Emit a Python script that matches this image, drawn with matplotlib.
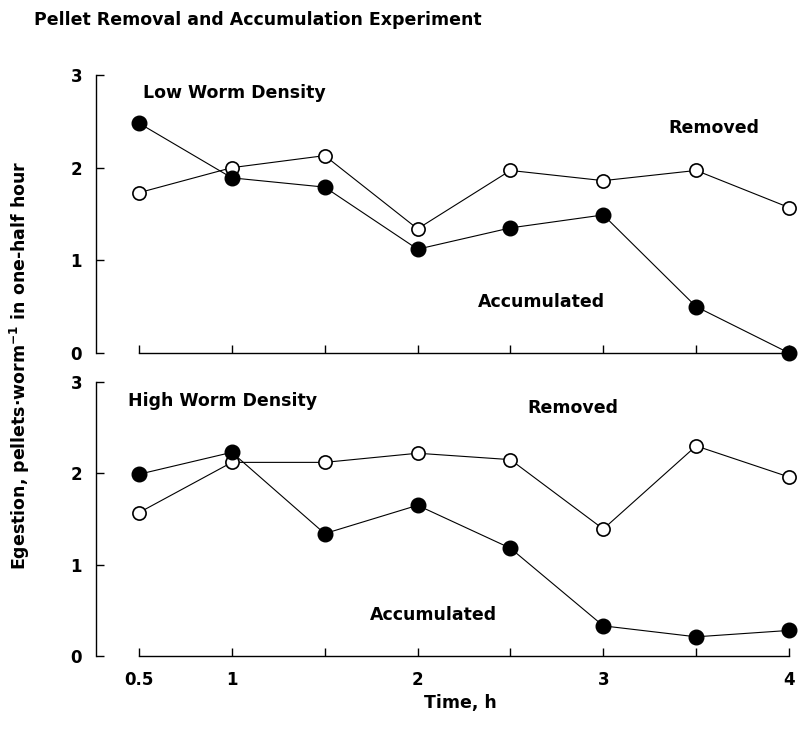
import matplotlib
matplotlib.use("Agg")
import matplotlib.pyplot as plt

plt.rcParams['font.family'] = ['DejaVu Sans']
plt.rcParams['font.weight'] = 'bold'

time_h = [0.5, 1.0, 1.5, 2.0, 2.5, 3.0, 3.5, 4.0]
low_accumulated = [2.48, 1.89, 1.79, 1.12, 1.35, 1.49, 0.50, 0.0]
low_removed = [1.73, 2.00, 2.13, 1.34, 1.97, 1.86, 1.97, 1.57]
high_accumulated = [1.99, 2.23, 1.34, 1.65, 1.18, 0.33, 0.21, 0.28]
high_removed = [1.57, 2.12, 2.12, 2.22, 2.15, 1.39, 2.30, 1.96]
x_ticks = [0.5, 1.0, 1.5, 2.0, 2.5, 3.0, 3.5, 4.0]
x_tick_labels = ['0.5', '1', '', '2', '', '3', '', '4']
y_ticks = [0, 1, 2, 3]

W, H = 798, 738
fig = plt.figure(figsize=(W / 100, H / 100), dpi=100)

def ax_rect(x0, x1, y_top, y_bot):
    return [x0 / W, 1 - y_bot / H, (x1 - x0) / W, (y_bot - y_top) / H]

ax_top = fig.add_axes(ax_rect(139, 789, 75, 353))
ax_bot = fig.add_axes(ax_rect(139, 789, 382, 656))

panels = [
    (ax_top, low_accumulated, low_removed, 'Low Worm Density',
     (143, 93), (668, 128), (478, 302)),
    (ax_bot, high_accumulated, high_removed, 'High Worm Density',
     (128, 401), (527, 408), (370, 615)),
]

fs = 12.5
for ax, acc, rem, title, tpos, rpos, apos in panels:
    ax.plot(time_h, rem, color='black', lw=0.8, marker='o', ms=9.5,
            mfc='white', mec='black', mew=1.2, clip_on=False, zorder=3)
    ax.plot(time_h, acc, color='black', lw=0.8, marker='o', ms=10.5,
            mfc='black', mec='black', clip_on=False, zorder=4)
    ax.set_xlim(0.5, 4.0)
    ax.set_ylim(0, 3)
    for s in ['top', 'right']:
        ax.spines[s].set_visible(False)
    ax.spines['left'].set_position(('outward', 31))
    ax.spines['left'].set_bounds(0, 3)
    ax.spines['bottom'].set_bounds(0.5, 4.0)
    ax.spines['left'].set_linewidth(1.0)
    ax.spines['bottom'].set_linewidth(1.0)
    ax.set_yticks(y_ticks)
    ax.set_yticklabels([str(v) for v in y_ticks], fontsize=12, fontweight='bold')
    ax.set_xticks(x_ticks)
    ax.tick_params(axis='both', direction='in', length=6, width=1.0, pad=10)
    ax.patch.set_visible(False)
    fig.text(tpos[0] / W, 1 - tpos[1] / H, title, fontsize=fs,
             fontweight='bold', va='center', ha='left')
    fig.text(rpos[0] / W, 1 - rpos[1] / H, 'Removed', fontsize=fs,
             fontweight='bold', va='center', ha='left')
    fig.text(apos[0] / W, 1 - apos[1] / H, 'Accumulated', fontsize=fs,
             fontweight='bold', va='center', ha='left')

ax_top.set_xticklabels([''] * len(x_ticks))
ax_bot.set_xticklabels(x_tick_labels, fontsize=12, fontweight='bold')
ax_bot.tick_params(axis='x', pad=11)

fig.text(34 / W, 1 - 20 / H, 'Pellet Removal and Accumulation Experiment',
         fontsize=fs, fontweight='bold', va='center', ha='left')
fig.text(460 / W, 1 - 703 / H, 'Time, h', fontsize=fs, fontweight='bold',
         va='center', ha='center')
fig.text(20 / W, 1 - 365 / H, 'Egestion, pellets\u00b7worm$^{-1}$ in one-half hour',
         fontsize=fs, fontweight='bold', va='center', ha='center', rotation=90)

fig.savefig('out.png', dpi=100, facecolor='white')
